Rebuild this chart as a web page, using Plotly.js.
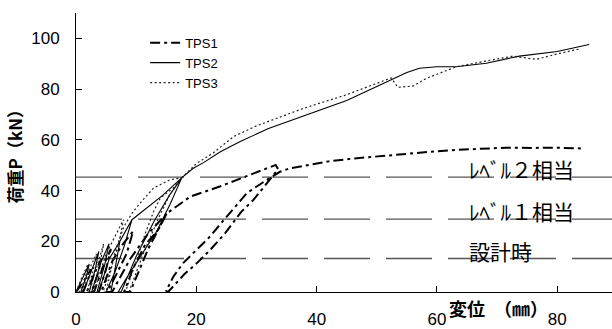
<!DOCTYPE html>
<html>
<head>
<meta charset="utf-8">
<script src="https://cdn.plot.ly/plotly-3.0.1.min.js"></script>
<style>html,body{margin:0;padding:0;background:#fff;}#chart{width:612px;height:329px;}</style>
</head>
<body>
<div id="chart"></div>
<script>
// ---- data ----
const seriesNames = ['TPS1', 'TPS2', 'TPS3'];

const tps1X = [0, 1.2, 2.5, 2.0, 1.2,
  1.8, 3.0, 4.2, 3.6, 2.6,
  3.0, 4.5, 5.8, 5.0, 3.8,
  4.2, 6.0, 7.5, 9.5, 8.4, 6.5, 5.2,
  6.0, 9.0, 12.0, 15.1, 13.5, 11.5, 9.5, 8.0,
  9.0, 12.0, 15.1, 19.0, 23.9, 27.8, 31.7, 33.2, 33.6, 31.5, 29.5, 27.5, 24.8, 22.3, 20.1, 18.0, 16.7, 15.3,
  15.0, 16.2, 17.8, 20.1, 22.3, 23.9, 25.6, 28.4, 31.7, 33.9, 35.6, 38.4, 42, 46, 50, 55, 60, 63, 67, 71.5, 76, 80, 84.2];
const tps1Y = [0, 4, 9, 5, 0,
  0, 7, 13, 7, 0,
  0, 10, 17, 9, 0,
  0, 12, 18, 24, 15, 6, 0,
  0, 13, 23, 31, 24, 18.6, 9.4, 0,
  0, 17, 31, 37.6, 41.6, 45.1, 48.8, 50.1, 48.4, 42, 36.3, 31.7, 23.2, 16.6, 11.4, 7, 3.5, 0,
  0.5, 6.1, 11.4, 16.7, 21.9, 26.5, 31.1, 39, 44.2, 47.4, 48.8, 50.1, 51.5, 52.6, 53.5, 54.4, 55.5, 56, 56.4, 56.9, 56.8, 56.9, 56.6];

const tps2X = [0, 1.0, 2.2, 1.7, 0.8,
  1.2, 2.6, 3.8, 3.2, 2.2,
  2.6, 4.2, 5.5, 4.8, 3.5,
  3.8, 5.5, 7.3, 9.3, 8.0, 6.5, 5.0,
  5.8, 7.3, 9.3, 11.7, 14.5, 17.6, 15.6, 13.4, 11.2, 8.4, 7.0,
  7.5, 10, 13, 15.5, 17.6, 19.5, 21.2, 24, 27.3, 32, 38.4, 45, 50, 52.4, 55, 57.1, 60, 63.2, 68.2, 73.7, 80, 85.3];
const tps2Y = [0, 5, 11, 6, 0,
  0, 9, 16, 9, 0,
  0, 12, 19, 11, 0,
  0, 13, 20, 28.5, 18, 8, 0,
  0, 20, 28.5, 33, 38.3, 45.1, 34.4, 23.9, 16, 5.5, 0,
  0, 14, 28, 38, 45.1, 48.8, 51, 55.3, 59.3, 64.5, 69.8, 75.5, 81, 83.6, 86.5, 88.2, 88.8, 88.8, 90.2, 93, 94.8, 97.6];

const tps3X = [0, 1.0, 2.0, 1.5, 0.5,
  1.0, 2.2, 3.4, 2.8, 1.8,
  2.2, 3.6, 4.6, 3.9, 2.8,
  3.0, 5.0, 6.5, 7.9, 7.0, 5.5, 4.5,
  5.0, 6.5, 8.0, 9.5, 11, 12.9, 15.6, 17.6, 16.2, 14, 12.9, 11.5, 10, 8.2,
  8.8, 11, 13.5, 15.5, 17.6, 20.1, 22.8, 26.2, 30, 37.8, 45, 52.4, 53.5, 56, 58.2, 63.2, 67.6, 72.6, 76.5, 80.4, 83.7];
const tps3Y = [0, 6, 11, 5, 0,
  0, 9, 15, 8, 0,
  0, 11, 19, 10, 0,
  0, 15, 22, 28.5, 18, 7, 0,
  0, 16, 26, 31.7, 36, 41, 44.2, 45.1, 41, 37, 31.7, 23, 12, 0,
  0, 14, 28, 38, 45.1, 50.8, 54.8, 61.3, 65.5, 72.4, 77.8, 84.4, 80.7, 81.2, 84.2, 88.8, 90.8, 93, 91.7, 94.1, 95.8];

const refLevels = [45.3, 28.7, 13.2];
const refLabels = ['ﾚﾍﾞﾙ２相当', 'ﾚﾍﾞﾙ１相当', '設計時'];
const refLabelX = 65;

const xTicks = [0, 20, 40, 60, 80];
const yTicks = [0, 20, 40, 60, 80, 100];
const xTitle = '変位　（㎜）';
const yTitle = '荷重P（kN）';

// ---- chart ----
const traces = [
  {x: tps1X, y: tps1Y, name: seriesNames[0], mode: 'lines',
   line: {color: '#000', width: 2, dash: '10px,4px,3px,4px'}},
  {x: tps2X, y: tps2Y, name: seriesNames[1], mode: 'lines',
   line: {color: '#000', width: 1.1}},
  {x: tps3X, y: tps3Y, name: seriesNames[2], mode: 'lines',
   line: {color: '#222', width: 1.2, dash: '2px,2.5px'}}
];

const shapes = refLevels.map(v => ({
  type: 'line', xref: 'paper', yref: 'y', x0: 0, x1: 1, y0: v, y1: v,
  layer: 'below', line: {color: '#555', width: 1.3, dash: '46px,16px'}
}));

const jpFont = '"Noto Sans CJK JP", "Noto Sans", sans-serif';
const annotations = refLevels.map((v, i) => ({
  x: refLabelX, y: v, xref: 'x', yref: 'y', text: refLabels[i],
  showarrow: false, xanchor: 'left', yanchor: 'bottom', yshift: -9,
  font: {family: jpFont, size: 21, color: '#000'}
}));
annotations.push({
  x: 0.789, y: -0.057, xref: 'paper', yref: 'paper', text: xTitle,
  showarrow: false, xanchor: 'center', yanchor: 'middle',
  font: {family: jpFont, size: 18, color: '#000', weight: 700}
});
annotations.push({
  x: -0.114, y: 0.50, xref: 'paper', yref: 'paper', text: yTitle,
  showarrow: false, xanchor: 'center', yanchor: 'middle', textangle: -90,
  font: {family: jpFont, size: 17, color: '#000', weight: 700}
});

const axisFont = {family: '"Liberation Sans", Arial, sans-serif', size: 17, color: '#000'};
const layout = {
  width: 612, height: 329,
  margin: {l: 76, r: 0, t: 13, b: 37, pad: 0},
  paper_bgcolor: '#fff', plot_bgcolor: '#fff',
  showlegend: true,
  legend: {x: 0.129, y: 0.947, xanchor: 'left', yanchor: 'top', bgcolor: 'rgba(0,0,0,0)',
    font: {family: '"Liberation Sans", Arial, sans-serif', size: 13, color: '#000'},
    itemwidth: 30, tracegroupgap: 0},
  xaxis: {range: [0, 89.1], tickvals: xTicks, showgrid: false, zeroline: false,
    showline: true, linecolor: '#000', linewidth: 1, ticks: 'inside', ticklen: 6,
    tickcolor: '#000', tickfont: axisFont, ticklabelstandoff: 12, fixedrange: true},
  yaxis: {range: [0, 110], tickvals: yTicks, showgrid: false, zeroline: false,
    showline: true, linecolor: '#000', linewidth: 1, ticks: 'inside', ticklen: 6,
    tickcolor: '#000', tickfont: axisFont, ticklabelstandoff: 12, fixedrange: true},
  shapes: shapes,
  annotations: annotations
};

Plotly.newPlot('chart', traces, layout, {displayModeBar: false, staticPlot: true});
</script>
</body>
</html>
